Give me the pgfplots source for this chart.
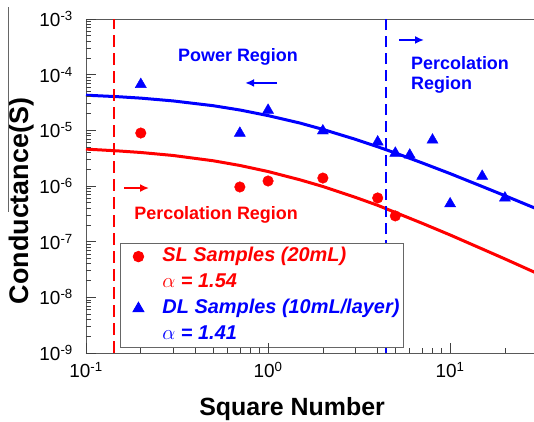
\documentclass[border=0pt]{standalone}
\usepackage{fontspec}
\setmainfont{Liberation Sans}
\usepackage{pgfplots}
\pgfplotsset{compat=1.18}
\usetikzlibrary{arrows.meta}

\pgfplotstableread{
x y
0.1 4.60e-6
0.15 4.27e-6
0.2 4.0e-6
0.3 3.54e-6
0.5 2.84e-6
0.7 2.34e-6
1 1.82e-6
1.5 1.29e-6
2 9.8e-7
3 6.3e-7
4 4.5e-7
5 3.35e-7
7 2.15e-7
10 1.32e-7
15 7.4e-8
20 4.9e-8
30 2.7e-8
}\redfit

\pgfplotstableread{
x y
0.1 4.28e-5
0.15 4.02e-5
0.2 3.79e-5
0.3 3.38e-5
0.5 2.77e-5
0.7 2.32e-5
1 1.84e-5
1.5 1.35e-5
2 1.04e-5
3 6.94e-6
4 5.07e-6
5 3.92e-6
7 2.61e-6
10 1.67e-6
15 9.8e-7
20 6.7e-7
30 3.87e-7
}\bluefit

\pgfplotstableread{
x y
0.2 8.95e-6
0.7 9.6e-7
1 1.23e-6
2 1.39e-6
4 6.1e-7
5 2.9e-7
}\slpts

\pgfplotstableread{
x y
0.2 6.7e-5
0.7 8.9e-6
1 2.3e-5
2 9.8e-6
4 6.2e-6
5 3.9e-6
6 3.6e-6
8 6.7e-6
10 4.8e-7
15 1.5e-6
20 6.1e-7
}\dlpts

\begin{document}
\begin{tikzpicture}
\path[use as bounding box] (-86bp,-69bp) rectangle (448bp,353bp);
\begin{axis}[
  at={(0,0)}, anchor=south west,
  scale only axis, width=451bp, height=334bp,
  xmode=log, ymode=log,
  xmin=0.1, xmax=30, ymin=1e-9, ymax=1e-3,
  axis line style={black!65, line width=0.8bp},
  tick pos=left, tick align=inside,
  major tick length=10bp, minor tick length=5bp,
  tick style={black!75, line width=0.7bp},
  xtick={0.1,1,10},
  xticklabels={10\textsuperscript{-1},10\textsuperscript{0},10\textsuperscript{1}},
  ytick={1e-9,1e-8,1e-7,1e-6,1e-5,1e-4,1e-3},
  yticklabels={10\textsuperscript{-9},10\textsuperscript{-8},10\textsuperscript{-7},10\textsuperscript{-6},10\textsuperscript{-5},10\textsuperscript{-4},10\textsuperscript{-3}},
  ticklabel style={font=\fontsize{19}{19}\selectfont},
  yticklabel style={inner sep=0pt, xshift=-13bp},
  xticklabel style={inner sep=0pt, yshift=-9bp},
  xlabel={Square Number},
  ylabel={Conductance(S)},
  xlabel style={font=\bfseries\fontsize{25}{25}\selectfont, at={(axis description cs:0.457,-0.132)}, anchor=north, inner sep=0pt},
  ylabel style={font=\bfseries\fontsize{27}{27}\selectfont, at={(axis description cs:-0.144,0.455)}, anchor=center, inner sep=0pt},
  clip=true,
  legend style={at={(0.0755,0.015)}, anchor=south west, draw=black!60, line width=0.8bp,
     font=\bfseries\itshape\fontsize{20}{20}\selectfont, row sep=2bp,
     inner xsep=2bp, inner ysep=1bp,
     nodes={text height=15bp, text depth=5bp, inner sep=2bp}},
  legend cell align=left,
  legend image code/.code={\path[draw=none,fill=none] (-16bp,0bp) (22bp,0bp); \draw[#1] plot coordinates {(0bp,0bp)};},
]
\addplot[red, line width=3bp, forget plot] table {\redfit};
\addplot[blue, line width=3bp, forget plot] table {\bluefit};
\addplot[red, line width=2bp, dash pattern=on 12bp off 6bp, forget plot] coordinates {(0.143,1e-9) (0.143,1e-3)};
\addplot[blue, line width=2bp, dash pattern=on 11bp off 6bp, forget plot] coordinates {(4.45,1e-9) (4.45,1e-3)};
\addplot[only marks, mark=*, mark size=5.3bp, red, mark options={fill=red, draw=red}] table {\slpts};
\addlegendentry{\textcolor{red}{SL Samples (20mL)}}
\addlegendimage{empty legend}
\addlegendentry{\textcolor{red}{$\alpha$ = 1.54}}
\addplot[only marks, mark=triangle*, mark size=6.4bp, blue, mark options={fill=blue, draw=blue}] table {\dlpts};
\addlegendentry{\textcolor{blue}{DL Samples (10mL/layer)}}
\addlegendimage{empty legend}
\addlegendentry{\textcolor{blue}{$\alpha$ = 1.41}}

\node[blue, font=\bfseries\fontsize{18}{18}\selectfont] at (axis cs:0.684,2.07e-4) {Power Region};
\draw[blue, line width=2bp, -{Latex[length=9bp,width=8bp]}] (axis cs:1.12,7.1e-5) -- (axis cs:0.748,7.1e-5);
\draw[blue, line width=2bp, -{Latex[length=9bp,width=8bp]}] (axis cs:5.25,4.2e-4) -- (axis cs:7.19,4.2e-4);
\node[blue, font=\bfseries\fontsize{18}{18}\selectfont, align=left, anchor=west, inner sep=0pt] at (axis cs:6.1,9.9e-5) {Percolation\\[3bp]Region};
\draw[red, line width=2bp, -{Latex[length=9bp,width=8bp]}] (axis cs:0.162,9.2e-7) -- (axis cs:0.222,9.2e-7);
\node[red, font=\bfseries\fontsize{18}{18}\selectfont, anchor=west, inner sep=0pt] at (axis cs:0.184,3.0e-7) {Percolation Region};
\end{axis}
% axis tick marks (y: 334bp over 6 decades; x: 451bp over log10(300) decades)
\begin{scope}[black!75, line width=0.7bp]
\foreach \e in {-9,...,-3} {
  \pgfmathsetmacro\yy{334*(\e+9)/6}
  \draw (0bp,\yy bp) -- ++(10bp,0bp);
}
\foreach \e in {-9,...,-4} {
  \foreach \m in {2,...,9} {
    \pgfmathsetmacro\yy{334*(\e+9+log10(\m))/6}
    \draw (0bp,\yy bp) -- ++(5bp,0bp);
  }
}
\foreach \e in {0,1,2} {
  \pgfmathsetmacro\xx{182.07*\e}
  \draw (\xx bp,0bp) -- ++(0bp,10bp);
}
\foreach \e in {0,1} {
  \foreach \m in {2,...,9} {
    \pgfmathsetmacro\xx{182.07*(\e+log10(\m))}
    \draw (\xx bp,0bp) -- ++(0bp,5bp);
  }
}
\pgfmathsetmacro\xx{182.07*(2+log10(2))}
\draw (\xx bp,0bp) -- ++(0bp,5bp);
\end{scope}
\draw[black!60, line width=0.6bp] (-78bp,141bp) -- (-78bp,346bp);
\end{tikzpicture}
\end{document}
